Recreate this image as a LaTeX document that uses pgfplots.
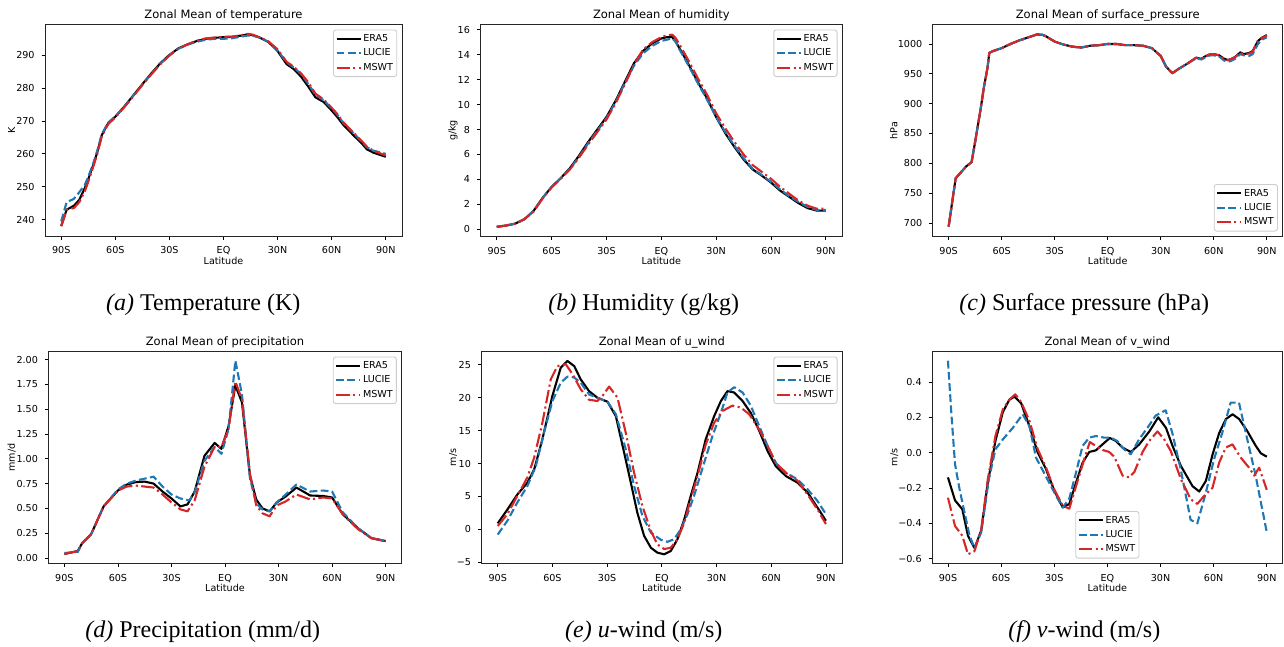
\documentclass[border=0pt]{standalone}
\usepackage{fontspec}
\setmainfont{Liberation Serif}
\newfontfamily\dejavu{DejaVu Sans}
\usepackage{pgfplots}
\pgfplotsset{compat=1.18}
\definecolor{tabblue}{RGB}{31,119,180}
\definecolor{tabred}{RGB}{214,39,40}
\definecolor{leggray}{RGB}{204,204,204}
\newcommand\tickfont{\dejavu\fontsize{9.6}{11.5}\selectfont}
\newcommand\titlefont{\dejavu\fontsize{11.5}{13.8}\selectfont}
\newcommand\capfont{\fontsize{24}{28}\selectfont}
\tikzset{
 era/.style={black, solid, line width=2.1pt, line join=round},
 luc/.style={tabblue, line width=2.1pt, line join=round, dash pattern=on 7.8pt off 3.4pt},
 msw/.style={tabred, line width=2.1pt, line join=round, dash pattern=on 13.4pt off 3.4pt on 2.1pt off 3.4pt},
}
\pgfplotsset{
 mpl/.style={
  scale only axis,
  xmin=-99, xmax=99,
  xtick={-90,-60,-30,0,30,60,90},
  xticklabels={90S,60S,30S,EQ,30N,60N,90N},
  tick align=outside,
  major tick length=3.5pt,
  minor tick num=0,
  tick pos=left,
  every tick/.style={black, line width=0.8pt},
  axis line style={line width=0.8pt, black!85},
  xticklabel style={font=\tickfont, anchor=north, inner sep=0pt, yshift=-7pt},
  yticklabel style={font=\tickfont, anchor=east, inner sep=0pt, xshift=-6.7pt},
  scaled y ticks=false,
  every axis title shift=0pt,
  title style={font=\titlefont, at={(axis description cs:0.5,1)}, anchor=base, yshift=5.8pt, inner sep=0pt},
  xlabel={Latitude},
  xlabel style={font=\tickfont, at={(axis description cs:0.5,0)}, anchor=center, yshift=-25pt, inner sep=0pt},
  ylabel style={font=\tickfont, anchor=center, inner sep=0pt},
  legend cell align=left,
  legend style={font=\tickfont, draw=leggray, line width=0.9pt, rounded corners=2.5pt,
    fill=white, fill opacity=0.8, text opacity=1, inner xsep=2pt, inner ysep=2.85pt, row sep=2.3pt,
    nodes={inner sep=1.7pt, text height=7pt, text depth=1.7pt}},
  legend image code/.code={\draw[##1, line width=2.1pt] (0pt,0pt) -- (20pt,0pt); \path (0pt,0pt) -- (24pt,0pt);},
 },
 legNE/.style={legend style={at={(1,1)}, anchor=north east, xshift=-4.8pt, yshift=-4.8pt}},
}
\begin{document}
\begin{tikzpicture}
\path[use as bounding box] (0pt,0pt) rectangle (1284pt,-646pt);

% (a) temperature
\begin{axis}[mpl, legNE, at={(45pt,-236pt)}, anchor=south west, width=357pt, height=211.3pt,
  ymin=235, ymax=299.3, ytick={240,250,260,270,280,290}, yticklabels={240,250,260,270,280,290},
  title={Zonal Mean of temperature}, ylabel={K},
  ylabel style={at={([xshift=-33.3pt]axis description cs:0,0.5)}}]
\addplot[era] coordinates {(-90,238) (-87,243) (-85,243.6) (-83,244.2) (-80,246) (-77,249.5) (-75,252.3) (-72,257) (-70,260.5) (-67.5,265.7) (-64,269.3) (-60,271.3) (-55,274.4) (-50,277.8) (-45,281.2) (-40,284.5) (-35,287.6) (-30,290.1) (-25,292.1) (-20,293.3) (-15,294.3) (-10,295) (-5,295.3) (0,295.5) (5,295.6) (10,296) (13.5,296.4) (16,296.1) (20,295.4) (25,294) (30,291.3) (35,287.3) (39,285.8) (43,283.5) (47,280.5) (51,277.2) (55.5,275.8) (59,273.8) (63,271.3) (66.5,268.8) (72,265.7) (77,263) (79.5,261.4) (83,260.4) (90,259.1)};
\addplot[luc] coordinates {(-90,239.5) (-87,245.3) (-83,246.3) (-80,248.3) (-77,250.5) (-75,253) (-72,257.5) (-70,261) (-67.5,266) (-64,269.5) (-60,271.4) (-55,274.4) (-50,277.7) (-45,281) (-40,284.3) (-35,287.4) (-30,290) (-25,292) (-20,293.2) (-15,294.1) (-10,294.7) (-5,295) (0,295) (5,295.2) (10,295.7) (13.5,296) (16,296) (20,295.4) (25,294.1) (30,291.5) (35,287.8) (39,286.3) (43,284.3) (47,281.3) (51,278) (55.5,276.3) (59,274.4) (63,272) (66.5,269.4) (72,266.4) (77,263.5) (79.5,262) (83,261) (90,260)};
\addplot[msw] coordinates {(-90,238) (-87,243) (-83,243.5) (-80,245.3) (-77,248.5) (-75,251.5) (-72,256.5) (-70,260) (-67.5,265.3) (-64,269) (-60,271.1) (-55,274.2) (-50,277.5) (-45,281) (-40,284.2) (-35,287.3) (-30,289.9) (-25,292) (-20,293.3) (-15,294.4) (-10,295.1) (-5,295.4) (0,295.6) (5,295.7) (10,296.1) (13.5,296.5) (16,296.3) (20,295.5) (25,294.2) (30,291.8) (35,288) (39,286.5) (43,284.5) (47,281.8) (51,278.3) (55.5,276.6) (59,274.6) (63,272.2) (66.5,269.6) (72,266.5) (77,263.7) (79.5,262.2) (83,261) (90,259.5)};
\legend{ERA5,LUCIE,MSWT}
\end{axis}

% (b) humidity
\begin{axis}[mpl, legNE, at={(480.3pt,-236.3pt)}, anchor=south west, width=362pt, height=211.6pt,
  ymin=-0.56, ymax=16.4, ytick={0,2,4,6,8,10,12,14,16}, yticklabels={0,2,4,6,8,10,12,14,16},
  title={Zonal Mean of humidity}, ylabel={g/kg},
  ylabel style={at={([xshift=-27.3pt]axis description cs:0,0.5)}}]
\addplot[era] coordinates {(-90,0.2) (-85,0.3) (-80,0.45) (-75,0.8) (-70,1.45) (-65,2.5) (-60,3.4) (-55,4.1) (-50,4.9) (-45,5.9) (-40,7.0) (-35,8.0) (-30,9.0) (-25,10.3) (-20,11.8) (-15,13.3) (-10,14.3) (-5,14.9) (0,15.3) (3,15.4) (6,15.4) (8,15.0) (10,14.5) (15,13.2) (20,11.8) (25,10.5) (30,9.0) (35,7.7) (40,6.6) (45,5.6) (50,4.8) (55,4.3) (60,3.75) (65,3.1) (70,2.6) (75,2.1) (80,1.7) (85,1.5) (90,1.5)};
\addplot[luc] coordinates {(-90,0.2) (-85,0.3) (-80,0.45) (-75,0.8) (-70,1.45) (-65,2.5) (-60,3.4) (-55,4.1) (-50,4.85) (-45,5.8) (-40,6.9) (-35,7.9) (-30,8.9) (-25,10.2) (-20,11.7) (-15,13.1) (-10,14.1) (-5,14.7) (0,15.1) (3,15.2) (6,15.3) (8,15.0) (10,14.4) (15,13.1) (20,11.7) (25,10.4) (30,9.0) (35,7.8) (40,6.7) (45,5.7) (50,4.85) (55,4.35) (60,3.8) (65,3.2) (70,2.65) (75,2.2) (80,1.8) (85,1.55) (90,1.55)};
\addplot[msw] coordinates {(-90,0.2) (-85,0.3) (-80,0.45) (-75,0.8) (-70,1.4) (-65,2.45) (-60,3.35) (-55,4.05) (-50,4.8) (-45,5.75) (-40,6.8) (-35,7.8) (-30,8.8) (-25,10.1) (-20,11.6) (-15,13.2) (-10,14.4) (-5,15.0) (0,15.4) (3,15.55) (6,15.6) (8,15.3) (10,14.8) (15,13.5) (20,12.1) (25,10.8) (30,9.3) (35,8.1) (40,7.0) (45,6.0) (50,5.15) (55,4.6) (60,4.05) (65,3.4) (70,2.85) (75,2.3) (80,1.9) (85,1.65) (90,1.65)};
\legend{ERA5,LUCIE,MSWT}
\end{axis}

% (c) surface pressure
\begin{axis}[mpl, at={(932.7pt,-236.3pt)}, anchor=south west, width=350pt, height=211.6pt,
  ymin=677.7, ymax=1032.3, ytick={700,750,800,850,900,950,1000}, yticklabels={700,750,800,850,900,950,1000},
  title={Zonal Mean of surface\_pressure}, ylabel={hPa},
  ylabel style={at={([xshift=-39pt]axis description cs:0,0.5)}},
  legend style={at={(1,0)}, anchor=south east, xshift=-4.8pt, yshift=4.8pt}]
\addplot[era] coordinates {(-90,694) (-86,775) (-83,785) (-80,795) (-77,802) (-75,836) (-72,889) (-70,928) (-68,960) (-67,985) (-65,988) (-60,993) (-55,1000) (-50,1006) (-45,1011) (-40,1016) (-37,1015.5) (-35,1013) (-30,1004) (-25,999) (-20,995.5) (-15,994) (-10,997) (-5,998) (0,1000) (5,1000) (10,998) (15,998) (20,997) (25,993) (28,985) (30,980) (33,962) (36.5,951) (40,958) (45,967) (50,977) (53,975) (55,979) (58,983) (60,983) (63,981) (66,975) (68,973) (70,975) (72,978) (75,986) (77,983) (80,985) (82,988) (85,1005) (87,1010) (90,1015)};
\addplot[luc] coordinates {(-90,694) (-86,775) (-83,785) (-80,795) (-77,802) (-75,836) (-72,889) (-70,928) (-68,960) (-67,985) (-65,988) (-60,993) (-55,1000) (-50,1006) (-45,1011) (-40,1016) (-37,1015.5) (-35,1013) (-30,1004) (-25,999) (-20,995.5) (-15,994) (-10,997) (-5,998) (0,1000) (5,1000) (10,998) (15,998) (20,997) (25,993) (28,985) (30,980) (33,962) (36.5,951) (40,958) (45,967) (50,976) (53,974) (55,977) (58,981) (60,981) (63,979) (66,972) (68,970) (70,972) (72,975) (75,983) (77,981) (80,980) (82,983) (85,1000) (87,1007) (90,1011)};
\addplot[msw] coordinates {(-90,694) (-86,775) (-83,785) (-80,795) (-77,802) (-75,836) (-72,889) (-70,928) (-68,960) (-67,985) (-65,988) (-60,993) (-55,1000) (-50,1006) (-45,1011) (-40,1016) (-37,1015.5) (-35,1013) (-30,1004) (-25,999) (-20,995.5) (-15,994) (-10,997) (-5,998) (0,1000) (5,1000) (10,998) (15,998) (20,997) (25,993) (28,985) (30,980) (33,962) (36.5,951) (40,958) (45,967) (50,977) (53,975) (55,979) (58,983) (60,983) (63,981) (66,975) (68,973) (70,975) (72,978) (75,985) (77,983) (80,984) (82,987) (85,1006) (87,1010) (90,1014)};
\legend{ERA5,LUCIE,MSWT}
\end{axis}

% (d) precipitation
\begin{axis}[mpl, legNE, at={(48.3pt,-563.3pt)}, anchor=south west, width=353.4pt, height=211.6pt,
  ymin=-0.054, ymax=2.08, ytick={0,0.25,0.5,0.75,1,1.25,1.5,1.75,2}, yticklabels={0.00,0.25,0.50,0.75,1.00,1.25,1.50,1.75,2.00},
  title={Zonal Mean of precipitation}, ylabel={mm/d},
  ylabel style={at={([xshift=-36.6pt]axis description cs:0,0.5)}}]
\addplot[era] coordinates {(-90,0.04) (-82.5,0.07) (-80,0.15) (-75,0.24) (-68,0.52) (-60,0.68) (-55,0.74) (-50,0.765) (-45,0.77) (-40,0.75) (-35,0.67) (-30,0.60) (-25,0.52) (-21,0.54) (-17,0.67) (-11.5,1.03) (-5.8,1.16) (-2,1.10) (2,1.33) (5.8,1.74) (9.5,1.57) (14,0.83) (17.5,0.59) (21,0.50) (25,0.47) (29,0.56) (34,0.62) (40,0.71) (47.7,0.63) (55,0.625) (60,0.61) (66,0.44) (74.5,0.30) (82,0.20) (90,0.17)};
\addplot[luc] coordinates {(-90,0.05) (-82.5,0.06) (-80,0.15) (-75,0.24) (-68,0.52) (-60,0.69) (-55,0.75) (-50,0.78) (-45,0.80) (-40,0.82) (-35,0.72) (-30,0.64) (-25,0.60) (-20,0.58) (-17,0.66) (-11.5,0.98) (-5.8,1.12) (-2,1.05) (2,1.30) (5.8,1.99) (9.5,1.65) (14,0.80) (17.5,0.55) (21,0.49) (25,0.47) (29,0.56) (34,0.64) (40,0.74) (47.7,0.67) (55,0.68) (60,0.67) (66,0.46) (74.5,0.30) (82,0.20) (90,0.17)};
\addplot[msw] coordinates {(-90,0.04) (-82.5,0.07) (-80,0.15) (-75,0.24) (-68,0.52) (-60,0.68) (-55,0.72) (-50,0.73) (-45,0.72) (-40,0.71) (-35,0.64) (-30,0.56) (-25,0.49) (-21,0.47) (-17,0.58) (-11.5,0.92) (-5.8,1.12) (-2,1.12) (2,1.30) (5.8,1.78) (9.5,1.60) (14,0.85) (17.5,0.53) (21,0.45) (25,0.42) (29,0.53) (34,0.57) (40,0.64) (47.7,0.59) (55,0.61) (60,0.60) (66,0.44) (74.5,0.29) (82,0.20) (90,0.17)};
\legend{ERA5,LUCIE,MSWT}
\end{axis}

% (e) u wind
\begin{axis}[mpl, legNE, at={(481.3pt,-563.3pt)}, anchor=south west, width=361pt, height=211.6pt,
  ymin=-5.17, ymax=27.0, ytick={-5,0,5,10,15,20,25}, yticklabels={−5,0,5,10,15,20,25},
  title={Zonal Mean of u\_wind}, ylabel={m/s},
  ylabel style={at={([xshift=-28.3pt]axis description cs:0,0.5)}}]
\addplot[era] coordinates {(-90,0.9) (-84.7,3.0) (-79.2,5.3) (-73.7,7.1) (-70,9.1) (-65.5,13.7) (-60,20.3) (-55.4,24.6) (-51.8,25.6) (-48,24.8) (-44.5,22.8) (-39.9,21.0) (-35.3,20.0) (-29.8,19.4) (-25.2,17.2) (-20.7,11.7) (-17,7.1) (-13.4,2.5) (-9.7,-1.0) (-6,-2.8) (-2.4,-3.55) (1.3,-3.8) (4.9,-3.3) (8.6,-1.5) (12.3,1.5) (15.9,5.1) (19.6,8.6) (24.1,13.7) (28.7,17.2) (32.4,19.5) (36,21.0) (39.7,20.8) (44.3,19.5) (48.8,17.7) (53.4,15.0) (58,11.9) (62.5,9.6) (68,8.1) (74.4,7.1) (79.9,5.6) (85.4,3.3) (90,1.3)};
\addplot[luc] coordinates {(-90,-0.8) (-84.7,1.3) (-79.2,4.1) (-73.7,6.6) (-69.1,9.6) (-64.6,14.7) (-60,19.5) (-55.4,22.3) (-51.8,23.2) (-48.2,23.1) (-44.5,22.3) (-39.9,20.5) (-35.3,20.0) (-29.8,19.4) (-25.2,17.5) (-19.8,12.2) (-15.2,6.6) (-10.6,2.0) (-6,-0.5) (-0.5,-1.6) (3.1,-1.9) (6.8,-1.5) (10.4,0) (14.1,2.3) (17.7,5.1) (23.2,10.1) (27.8,14.2) (32.4,17.7) (36,20.8) (39.7,21.6) (44.3,20.8) (48.8,18.8) (53.4,15.7) (58,12.7) (62.5,10.1) (68,8.6) (74.4,7.6) (79.9,6.1) (85.4,4.3) (90,2.3)};
\addplot[msw] coordinates {(-90,0.5) (-84.7,2.3) (-79.2,5.1) (-73.7,7.9) (-70,10.9) (-65.5,16.2) (-60.9,22.8) (-57.3,24.8) (-52.7,25.1) (-49,23.6) (-44.5,21.3) (-39.9,19.7) (-35.3,19.5) (-32.5,20.3) (-28.9,21.7) (-24.3,20.0) (-19.8,14.7) (-15.2,8.6) (-10.6,3.5) (-6,-0.25) (-2.4,-2.3) (1.3,-3.0) (4.9,-2.8) (8.6,-1.5) (12.3,1.0) (15.9,4.6) (19.6,8.1) (24.1,12.9) (28.7,16.2) (33.3,18.0) (38.7,18.8) (43.4,18.5) (47.9,17.5) (53.4,15.2) (58,12.7) (62.5,10.1) (68,8.6) (74.4,7.4) (79.9,5.3) (85.4,3.0) (90,0.8)};
\legend{ERA5,LUCIE,MSWT}
\end{axis}

% (f) v wind
\begin{axis}[mpl, at={(932pt,-563.3pt)}, anchor=south west, width=350.7pt, height=211.6pt,
  ymin=-0.626, ymax=0.571, ytick={-0.6,-0.4,-0.2,0,0.2,0.4}, yticklabels={−0.6,−0.4,−0.2,0.0,0.2,0.4},
  title={Zonal Mean of v\_wind}, ylabel={m/s},
  ylabel style={at={([xshift=-37.7pt]axis description cs:0,0.5)}},
  legend style={at={(0.5,0)}, anchor=south, yshift=4.8pt}]
\addplot[era] coordinates {(-90,-0.14) (-86,-0.27) (-81.9,-0.32) (-78.7,-0.47) (-75,-0.54) (-71.2,-0.44) (-67.5,-0.17) (-63.2,0.066) (-59,0.23) (-55.3,0.30) (-52.4,0.317) (-48.7,0.28) (-44,0.15) (-39.3,0.0) (-34.6,-0.094) (-29.9,-0.217) (-25.2,-0.31) (-21.5,-0.29) (-17.7,-0.17) (-14,-0.057) (-10.2,0.004) (-6.5,0.013) (-2.7,0.047) (1.4,0.083) (4.8,0.066) (8.6,0.028) (13.3,0.004) (18,0.047) (23.7,0.12) (28.7,0.20) (33.1,0.14) (36.8,0.038) (41.5,-0.075) (48.1,-0.19) (51.9,-0.22) (55.6,-0.16) (59.4,-0.01) (63.1,0.11) (66.9,0.19) (70.7,0.217) (74.4,0.19) (79.1,0.12) (83.8,0.038) (86.7,-0.004) (90,-0.023)};
\addplot[luc] coordinates {(-90,0.52) (-88.1,0.226) (-86,-0.066) (-83.4,-0.21) (-80.6,-0.34) (-77.8,-0.47) (-75,-0.54) (-71.2,-0.45) (-66.9,-0.15) (-63.2,0.019) (-59,0.075) (-53.4,0.14) (-47.8,0.217) (-44,0.15) (-40.3,-0.028) (-36.5,-0.10) (-31.8,-0.19) (-28.1,-0.26) (-25.2,-0.31) (-21.5,-0.26) (-17.7,-0.113) (-14,0.038) (-10.2,0.085) (-6.5,0.094) (-1.8,0.085) (1.9,0.085) (5.6,0.066) (9.4,0.019) (13.2,-0.009) (17.9,0.075) (22.6,0.14) (27.3,0.21) (32.9,0.24) (36.7,0.11) (41.4,-0.094) (47,-0.38) (50.8,-0.40) (55.5,-0.23) (60.2,-0.038) (64.9,0.113) (69.6,0.283) (74.3,0.283) (79,0.075) (83.7,-0.13) (90,-0.45)};
\addplot[msw] coordinates {(-90,-0.255) (-86,-0.415) (-81.9,-0.47) (-78.7,-0.575) (-75,-0.557) (-71.2,-0.434) (-67.5,-0.15) (-63.2,0.094) (-59,0.245) (-55.3,0.30) (-52,0.33) (-48.7,0.287) (-44,0.18) (-39.3,0.019) (-34.6,-0.085) (-29.9,-0.21) (-25.2,-0.30) (-21.5,-0.317) (-17.7,-0.19) (-13.1,-0.038) (-9.9,0.06) (-6.5,0.038) (-2.7,0.015) (1,0.004) (3.9,-0.023) (8.6,-0.13) (12.3,-0.14) (15.2,-0.11) (19.9,0.004) (23.6,0.066) (28.3,0.12) (32.1,0.075) (35.8,0.009) (41.5,-0.15) (47.1,-0.264) (50.8,-0.29) (54.6,-0.245) (59.3,-0.2) (63.1,-0.057) (66.8,0.028) (70.6,0.047) (75.3,-0.028) (80,-0.085) (82.9,-0.13) (85.7,-0.085) (90,-0.21)};
\legend{ERA5,LUCIE,MSWT}
\end{axis}

% captions
\node[anchor=base, font=\capfont] at (203.3pt,-310.7pt) {\textit{(a)} Temperature (K)};
\node[anchor=base, font=\capfont] at (643.7pt,-310.7pt) {\textit{(b)} Humidity (g/kg)};
\node[anchor=base, font=\capfont] at (1084.3pt,-310.7pt) {\textit{(c)} Surface pressure (hPa)};
\node[anchor=base, font=\capfont] at (202.7pt,-637.7pt) {\textit{(d)} Precipitation (mm/d)};
\node[anchor=base, font=\capfont] at (643.8pt,-637.7pt) {\textit{(e)} \textit{u}-wind (m/s)};
\node[anchor=base, font=\capfont] at (1084.3pt,-637.7pt) {\textit{(f)} \textit{v}-wind (m/s)};
\end{tikzpicture}
\end{document}
